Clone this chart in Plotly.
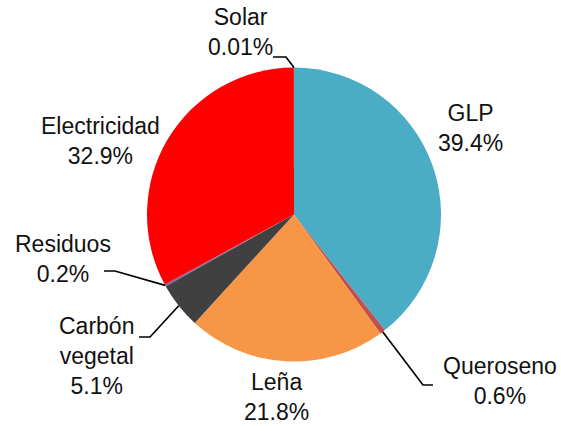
import numpy as np
import plotly.graph_objects as go

# consumo de energia por fuente (%)
labels = ["GLP", "Queroseno", "Leña", "Carbón vegetal", "Residuos", "Electricidad", "Solar"]
text_labels = ["GLP", "Queroseno", "Leña", "Carbón<br>vegetal", "Residuos", "Electricidad", "Solar"]
values = [39.4, 0.6, 21.8, 5.1, 0.2, 32.9, 0.01]
pct_text = ["39.4%", "0.6%", "21.8%", "5.1%", "0.2%", "32.9%", "0.01%"]
colors = ["#4BACC6", "#C0504D", "#F79646", "#404040", "#8064A2", "#FF0000", "#9BBB59"]

W, H = 561, 426
cx, cy, r = 294, 214.5, 147

# label position (px) and optional elbow for leader lines
label_pos = {
    "GLP": (470, 128),
    "Queroseno": (500, 381),
    "Leña": (276, 397),
    "Carbón vegetal": (96, 356),
    "Residuos": (63, 259),
    "Electricidad": (100, 141),
    "Solar": (240, 32),
}
elbows = {
    "Queroseno": [(423, 385), (433, 385)],
    "Carbón vegetal": [(150, 337), (139, 337)],
    "Residuos": [(115, 271), (104, 271)],
    "Solar": [(286, 57), (273, 57)],
}

def px2paper(x, y):
    return x / W, 1 - y / H

fig = go.Figure()
fig.add_trace(go.Pie(
    labels=labels,
    values=values,
    sort=False,
    direction="clockwise",
    rotation=0,
    marker=dict(colors=colors, line=dict(width=0)),
    textinfo="none",
    showlegend=False,
    domain=dict(x=[(cx - r) / W, (cx + r) / W], y=[(H - cy - r) / H, (H - cy + r) / H]),
))

# slice mid points on the edge, from the data
total = sum(values)
cum = np.cumsum([0] + values)
annotations = []
shapes = []
for i, name in enumerate(labels):
    mid = (cum[i] + values[i] / 2) / total * 2 * np.pi
    ex = cx + r * np.sin(mid)
    ey = cy - r * np.cos(mid)
    lx, ly = label_pos[name]
    x, y = px2paper(lx, ly)
    annotations.append(dict(
        x=x, y=y, xref="paper", yref="paper",
        xanchor="center", yanchor="middle",
        text=text_labels[i] + "<br>" + pct_text[i],
        showarrow=False, align="center",
        font=dict(family="Liberation Sans, Arial", size=23, color="#111111"),
    ))
    if name in elbows:
        pts = [(ex, ey)] + elbows[name]
        path = "M " + " L ".join("%.4f,%.4f" % px2paper(px, py) for px, py in pts)
        shapes.append(dict(type="path", path=path, xref="paper", yref="paper",
                           line=dict(color="black", width=1.7)))

fig.update_layout(
    width=W, height=H,
    margin=dict(l=0, r=0, t=0, b=0),
    paper_bgcolor="white",
    plot_bgcolor="white",
    annotations=annotations,
    shapes=shapes,
)

# quitar el margen por defecto del body
fig.write_html("out.html", config={"displayModeBar": False},
               post_script="document.body.style.margin='0';")
